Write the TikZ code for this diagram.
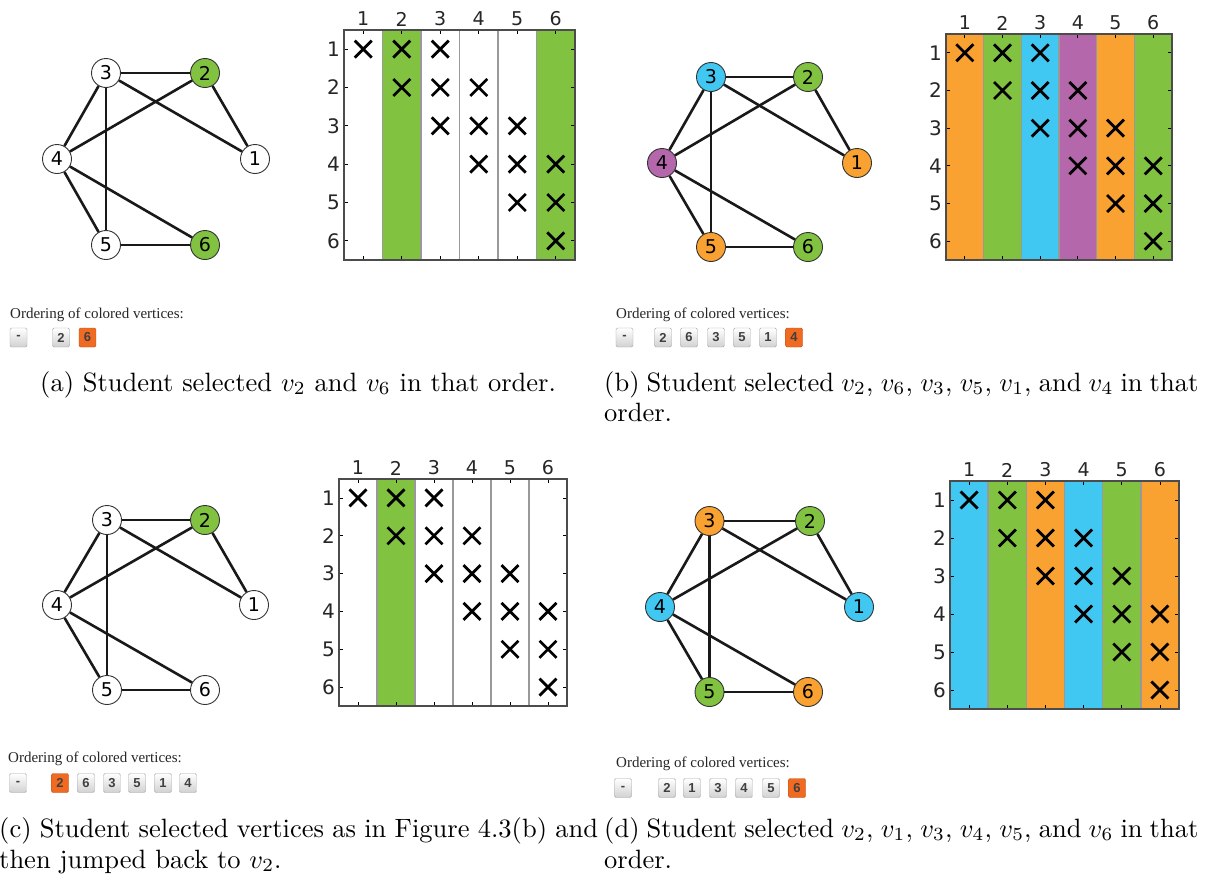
\documentclass[tikz,border=0pt]{standalone}
\usepackage{fontspec}
\usepackage{graphicx}
\newfontfamily\plotfont{DejaVu Sans}
\newfontfamily\uifont{Liberation Serif}
\newfontfamily\btnfont{Liberation Sans}

\definecolor{cgreen}{RGB}{129,194,65}
\definecolor{corange}{RGB}{249,161,49}
\definecolor{ccyan}{RGB}{64,199,242}
\definecolor{cpurple}{RGB}{180,103,170}
\definecolor{btnorange}{RGB}{241,106,33}

\tikzset{
  vtx/.style={circle, draw=black!80, line width=0.9pt, minimum size=29pt, inner sep=0pt,
    font=\plotfont\fontsize{19}{19}\selectfont},
  edge/.style={line width=2.6pt, draw=black!90},
  sepline/.style={line width=1.6pt, draw=black!40},
  axframe/.style={line width=1.4pt, draw=black!70},
  axtick/.style={line width=0.8pt, draw=black},
  xmark/.style={line width=2.8pt, draw=black},
  collab/.style={inner sep=0pt, font=\plotfont\fontsize{19}{19}\selectfont, text=black!85},
  rowlab/.style={inner sep=0pt, anchor=east, font=\plotfont\fontsize{20}{20}\selectfont, text=black!85},
  btn/.style={rounded corners=1.5pt, draw=black!35, top color=white, bottom color=black!18,
    minimum width=17pt, minimum height=19pt, inner sep=0pt,
    font=\btnfont\bfseries\fontsize{13}{13}\selectfont, text=black!75},
  btnsel/.style={btn, top color=btnorange, bottom color=btnorange, draw=btnorange!75!black},
  ordertext/.style={anchor=base west, inner sep=0pt, font=\uifont\fontsize{15}{15}\selectfont, text=black!85},
  caption/.style={anchor=base west, inner sep=0pt},
}

% graph on six vertices: #1 name prefix, #2 list of vertex/x/y/fill
\newcommand{\graphpanel}[2]{%
  \foreach \n/\x/\y/\c in {#2} \node[vtx, fill=\c] (#1\n) at (\x,\y) {\n};
  \foreach \u/\v in {3/2,3/1,2/1,2/4,3/4,3/5,4/5,4/6,5/6} \draw[edge] (#1\u) -- (#1\v);
}

% conflict matrix: #1 prefix, #2 left, #3 top, #4 right, #5 bottom, #6 column colours
\newcommand{\adjmatrix}[6]{%
  \pgfmathsetmacro\cw{(#4-#2)/6}%
  \pgfmathsetmacro\rh{(#5-#3)/6}%
  \foreach \col [count=\i] in {#6}
    \fill[\col] ({#2+(\i-1)*\cw},#3) rectangle ({#2+\i*\cw},#5);
  \foreach \i in {1,...,5}
    \draw[sepline] ({#2+\i*\cw},#3) -- ({#2+\i*\cw},#5);
  \foreach \i in {1,...,6}{
    \draw[axtick] ({#2+(\i-0.5)*\cw},#5) -- ++(0,-4) ({#2+(\i-0.5)*\cw},#3) -- ++(0,4);
    \draw[axtick] (#2,{#3+(\i-0.5)*\rh}) -- ++(4,0) (#4,{#3+(\i-0.5)*\rh}) -- ++(-4,0);
    \node[collab] (#1c\i) at ({#2+(\i-0.5)*\cw},#3-11) {\i};
    \node[rowlab] (#1r\i) at (#2-4,{#3+(\i-0.5)*\rh}) {\i};
  }
  \foreach \r in {1,...,6}{
    \foreach \k in {0,1,2}{
      \pgfmathtruncatemacro\cc{\r+\k}%
      \ifnum\cc<7
        \draw[xmark] ({#2+(\cc-0.5)*\cw-8.5},{#3+(\r-0.5)*\rh-8.5}) -- ++(17,17) ++(-17,0) -- ++(17,-17);
      \fi
    }
  }
  \draw[axframe] (#2,#3) rectangle (#4,#5);
}

\newcommand{\capscale}{2.65}
\newcommand{\capline}[2]{\scalebox{\capscale}{\makebox[#1][s]{#2}}}
\newcommand{\captext}[1]{\scalebox{\capscale}{#1}}

\begin{document}
\begin{tikzpicture}[x=1pt, y=-1pt]
\useasboundingbox (0,0) rectangle (1206,878);
\fill[white] (0,0) rectangle (1206,878);

% ---------------- (a) ----------------
\graphpanel{ga}{1/255/159/white, 2/205/73/cgreen, 3/106/73/white, 4/57/159/white, 5/106/245/white, 6/205/245/cgreen}
\adjmatrix{ma}{344}{30}{575}{260}{white,cgreen,white,white,white,cgreen}
\node[ordertext] (oa) at (10,318) {Ordering of colored vertices:};
\node[btn] (ba0) at (18.5,337.5) {-};
\foreach \lab/\x/\st [count=\i] in {2/61/btn, 6/87.5/btnsel}
  \node[\st] (ba\i) at (\x,337.5) {\lab};
\node[caption] (capa) at (40,391) {\captext{(a) Student selected $v_2$ and $v_6$ in that order.}};

% ---------------- (b) ----------------
\graphpanel{gb}{1/857/163/corange, 2/808/77/cgreen, 3/711/77/ccyan, 4/662/163/cpurple, 5/711/247/corange, 6/808/247/cgreen}
\adjmatrix{mb}{946}{34}{1172}{260}{corange,cgreen,ccyan,cpurple,corange,cgreen}
\node[ordertext] (ob) at (616,318) {Ordering of colored vertices:};
\node[btn] (bb0) at (624.5,337.5) {-};
\foreach \lab/\x/\st [count=\i] in {2/663/btn, 6/689/btn, 3/716/btn, 5/742/btn, 1/768/btn, 4/794/btnsel}
  \node[\st] (bb\i) at (\x,337.5) {\lab};
\node[caption] (capb1) at (604,391) {\capline{224.2pt}{(b) Student selected $v_2$, $v_6$, $v_3$, $v_5$, $v_1$, and $v_4$ in that}};
\node[caption] (capb2) at (604,421) {\captext{order.}};

% ---------------- (c) ----------------
\graphpanel{gc}{1/254/605/white, 2/205/520/cgreen, 3/107/520/white, 4/57/605/white, 5/107/690/white, 6/205/690/white}
\adjmatrix{mc}{339}{479}{567}{706}{white,cgreen,white,white,white,white}
\node[ordertext] (oc) at (8,762) {Ordering of colored vertices:};
\node[btn] (bc0) at (18,783) {-};
\foreach \lab/\x/\st [count=\i] in {2/60/btnsel, 6/86/btn, 3/112/btn, 5/137/btn, 1/163/btn, 4/188/btn}
  \node[\st] (bc\i) at (\x,783) {\lab};
\node[caption] (capc1) at (-1,837) {\capline{226pt}{(c) Student selected vertices as in Figure 4.3(b) and}};
\node[caption] (capc2) at (-1,868) {\captext{then jumped back to $v_2$.}};

% ---------------- (d) ----------------
\graphpanel{gd}{1/859/607/ccyan, 2/810/521/cgreen, 3/709.5/521/corange, 4/660/607/ccyan, 5/709.5/692/cgreen, 6/808/692/corange}
\adjmatrix{md}{950}{481}{1179}{709}{ccyan,cgreen,corange,ccyan,cgreen,corange}
\node[ordertext] (od) at (616,767) {Ordering of colored vertices:};
\node[btn] (bd0) at (623,788) {-};
\foreach \lab/\x/\st [count=\i] in {2/667/btn, 1/692/btn, 3/718/btn, 4/744/btn, 5/771/btn, 6/797/btnsel}
  \node[\st] (bd\i) at (\x,788) {\lab};
\node[caption] (capd1) at (604,837) {\capline{224.2pt}{(d) Student selected $v_2$, $v_1$, $v_3$, $v_4$, $v_5$, and $v_6$ in that}};
\node[caption] (capd2) at (604,868) {\captext{order.}};
\end{tikzpicture}
\end{document}
